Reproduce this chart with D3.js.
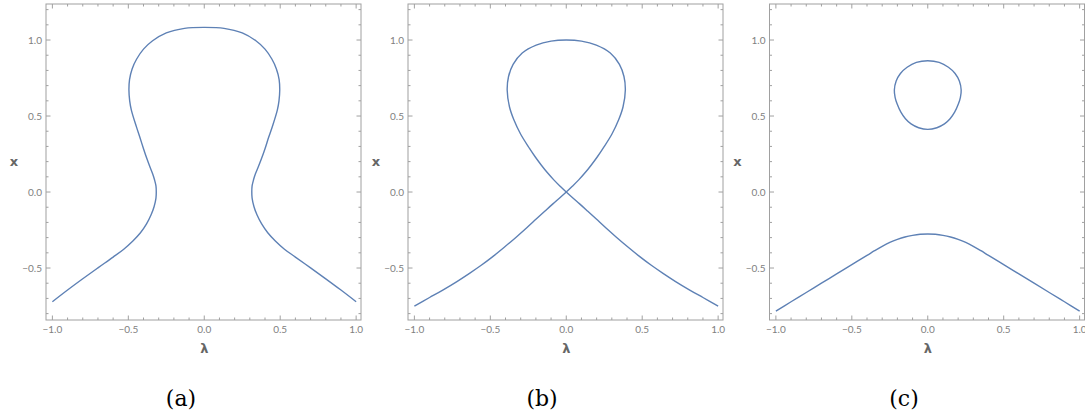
<!DOCTYPE html>
<html><head><meta charset="utf-8">
<script src="https://cdn.jsdelivr.net/npm/d3@7"></script>
<style>
html,body{margin:0;padding:0;background:#fff;}
svg{display:block;}
</style></head>
<body>
<svg id="chart" width="1085" height="418"></svg>
<script>
// ---- data (λ, x) ----
const xTicks = [-1.0, -0.5, 0.0, 0.5, 1.0];
const yTicks = [-0.5, 0.0, 0.5, 1.0];
const captions = ["(a)", "(b)", "(c)"];

const curveA = [
  [-1.0,-0.722],[-0.9,-0.645],[-0.8,-0.571],[-0.7,-0.499],[-0.6,-0.428],[-0.53,-0.376],
  [-0.47,-0.322],[-0.42,-0.268],[-0.38,-0.21],[-0.35,-0.15],[-0.33,-0.095],[-0.318,-0.04],
  [-0.316,0.0],[-0.318,0.04],[-0.327,0.079],[-0.34,0.12],[-0.358,0.166],[-0.378,0.22],
  [-0.40,0.285],[-0.424,0.36],[-0.447,0.43],[-0.48,0.539],[-0.491,0.6],[-0.496,0.671],
  [-0.492,0.74],[-0.475,0.81],[-0.445,0.875],[-0.40,0.94],[-0.34,0.995],[-0.25,1.047],
  [-0.13,1.077],[0,1.083],
  [0.13,1.077],[0.25,1.047],[0.34,0.995],[0.40,0.94],[0.445,0.875],[0.475,0.81],
  [0.493,0.74],[0.497,0.671],[0.492,0.6],[0.481,0.539],[0.448,0.43],[0.424,0.36],
  [0.40,0.285],[0.377,0.22],[0.356,0.166],[0.337,0.12],[0.324,0.079],[0.315,0.04],
  [0.313,0.0],[0.315,-0.04],[0.327,-0.095],[0.347,-0.15],[0.378,-0.21],[0.418,-0.268],
  [0.468,-0.322],[0.528,-0.376],[0.6,-0.428],[0.7,-0.499],[0.8,-0.571],[0.9,-0.645],[1.0,-0.722]
];

const curveB = [
  [-1.0,-0.75],[-0.9,-0.694],[-0.813,-0.645],[-0.72,-0.589],[-0.637,-0.535],[-0.56,-0.482],
  [-0.484,-0.425],[-0.41,-0.365],[-0.33,-0.297],[-0.26,-0.235],[-0.198,-0.178],
  [-0.14,-0.125],[-0.088,-0.078],[-0.04,-0.036],[0,0],
  [0.04,0.038],[0.082,0.08],[0.125,0.128],[0.165,0.178],[0.205,0.232],[0.242,0.287],
  [0.30,0.38],[0.345,0.475],[0.374,0.561],[0.389,0.671],[0.38,0.76],[0.35,0.84],
  [0.29,0.915],[0.198,0.967],[0.1,0.993],[0,1.0],
  [-0.1,0.993],[-0.198,0.967],[-0.29,0.915],[-0.35,0.84],[-0.38,0.76],[-0.389,0.671],
  [-0.374,0.561],[-0.345,0.475],[-0.30,0.38],[-0.242,0.287],[-0.205,0.232],[-0.165,0.178],
  [-0.125,0.128],[-0.082,0.08],[-0.04,0.038],[0,0],
  [0.04,-0.036],[0.088,-0.078],[0.14,-0.125],[0.198,-0.178],[0.26,-0.235],[0.33,-0.297],
  [0.41,-0.365],[0.484,-0.425],[0.56,-0.482],[0.637,-0.535],[0.72,-0.589],[0.813,-0.645],
  [0.9,-0.694],[1.0,-0.75]
];

const curveCOval = [
  [0,0.864],[-0.075,0.853],[-0.136,0.821],[-0.18,0.78],[-0.208,0.73],[-0.22,0.671],
  [-0.215,0.623],[-0.202,0.58],[-0.177,0.525],[-0.147,0.482],[-0.11,0.448],[-0.06,0.423],
  [0,0.412],[0.06,0.423],[0.11,0.448],[0.147,0.482],[0.177,0.525],[0.202,0.58],
  [0.215,0.623],[0.22,0.671],[0.208,0.73],[0.18,0.78],[0.136,0.821],[0.075,0.853]
];

const curveCLower = [
  [-1.0,-0.783],[-0.9,-0.722],[-0.8,-0.661],[-0.7,-0.6],[-0.6,-0.539],[-0.5,-0.478],
  [-0.4,-0.417],[-0.35,-0.386],[-0.3,-0.357],[-0.25,-0.332],[-0.2,-0.312],[-0.15,-0.296],
  [-0.1,-0.285],[-0.05,-0.278],[0,-0.276],
  [0.05,-0.278],[0.1,-0.285],[0.15,-0.296],[0.2,-0.312],[0.25,-0.332],[0.3,-0.357],
  [0.35,-0.386],[0.4,-0.417],[0.5,-0.478],[0.6,-0.539],[0.7,-0.6],[0.8,-0.661],
  [0.9,-0.722],[1.0,-0.783]
];

// ---- layout ----
const svg = d3.select("#chart");
const panelLefts = [46, 408, 769.5];
const panelW = 315, plotTop = 4, panelH = 316;
const xDomain = [-1.042, 1.032];
const yDomain = [-0.842, 1.237];
const lineColor = "#5e81b5";
const frameColor = "#a0a0a0";
const labelColor = "#808080";

const panels = [
  {curves: [{pts: curveA, closed: false}]},
  {curves: [{pts: curveB, closed: false}]},
  {curves: [{pts: curveCOval, closed: true}, {pts: curveCLower, closed: false}]}
];

panels.forEach((p, i) => {
  const left = panelLefts[i];
  const x = d3.scaleLinear().domain(xDomain).range([left, left + panelW]);
  const y = d3.scaleLinear().domain(yDomain).range([plotTop + panelH, plotTop]);
  const g = svg.append("g");

  // frame
  g.append("rect").attr("x", left).attr("y", plotTop).attr("width", panelW).attr("height", panelH)
    .attr("fill", "none").attr("stroke", frameColor).attr("stroke-width", 1);

  // minor + major ticks
  const xt = d3.range(-10, 11).map(d => d / 10);
  const yt = d3.range(-8, 13).map(d => d / 10);
  const isMajor = v => Math.abs(v * 2 - Math.round(v * 2)) < 1e-6;
  xt.forEach(v => {
    const L = isMajor(v) ? 4.5 : 2.5;
    const px = x(v);
    g.append("line").attr("x1", px).attr("x2", px).attr("y1", plotTop + panelH).attr("y2", plotTop + panelH - L)
      .attr("stroke", frameColor).attr("stroke-width", 1);
    g.append("line").attr("x1", px).attr("x2", px).attr("y1", plotTop).attr("y2", plotTop + L)
      .attr("stroke", frameColor).attr("stroke-width", 1);
  });
  yt.forEach(v => {
    const L = isMajor(v) ? 4.5 : 2.5;
    const py = y(v);
    g.append("line").attr("x1", left).attr("x2", left + L).attr("y1", py).attr("y2", py)
      .attr("stroke", frameColor).attr("stroke-width", 1);
    g.append("line").attr("x1", left + panelW).attr("x2", left + panelW - L).attr("y1", py).attr("y2", py)
      .attr("stroke", frameColor).attr("stroke-width", 1);
  });

  const fmt = v => (v < 0 ? "\u2212" : "") + Math.abs(v).toFixed(1);
  xTicks.forEach(v => {
    g.append("text").attr("x", x(v)).attr("y", plotTop + panelH + 13).attr("text-anchor", "middle")
      .attr("font-family", "Lato, 'Open Sans', sans-serif").attr("font-size", 10).attr("fill", labelColor)
      .text(fmt(v));
  });
  yTicks.forEach(v => {
    g.append("text").attr("x", left - 4).attr("y", y(v) + 3.5).attr("text-anchor", "end")
      .attr("font-family", "Lato, 'Open Sans', sans-serif").attr("font-size", 10).attr("fill", labelColor)
      .text(fmt(v));
  });

  // axis labels
  g.append("text").attr("x", left - 32).attr("y", 166).attr("text-anchor", "middle")
    .attr("font-family", "'DejaVu Sans', sans-serif").attr("font-weight", "bold").attr("font-size", 13)
    .attr("fill", "#666").text("x");
  g.append("text").attr("x", x(0)).attr("y", plotTop + panelH + 33).attr("text-anchor", "middle")
    .attr("font-family", "'DejaVu Sans', sans-serif").attr("font-weight", "bold").attr("font-size", 13)
    .attr("fill", "#666").text("\u03bb");

  // curves
  const clipId = "clip" + i;
  svg.append("clipPath").attr("id", clipId).append("rect")
    .attr("x", left).attr("y", plotTop).attr("width", panelW).attr("height", panelH);
  p.curves.forEach(c => {
    const line = d3.line().x(d => x(d[0])).y(d => y(d[1]))
      .curve(c.closed ? d3.curveCatmullRomClosed.alpha(0.5) : d3.curveCatmullRom.alpha(0.5));
    g.append("path").attr("d", line(c.pts)).attr("fill", "none").attr("stroke", lineColor)
      .attr("stroke-width", 1.4).attr("stroke-linejoin", "round").attr("clip-path", `url(#${clipId})`);
  });

  // caption
  const capCenters = [181, 542, 904];
  g.append("text").attr("x", capCenters[i]).attr("y", 406).attr("text-anchor", "middle")
    .attr("font-family", "'DejaVu Serif', 'Liberation Serif', serif").attr("font-size", 22)
    .attr("fill", "#000").text(captions[i]);
});
</script>
</body></html>
